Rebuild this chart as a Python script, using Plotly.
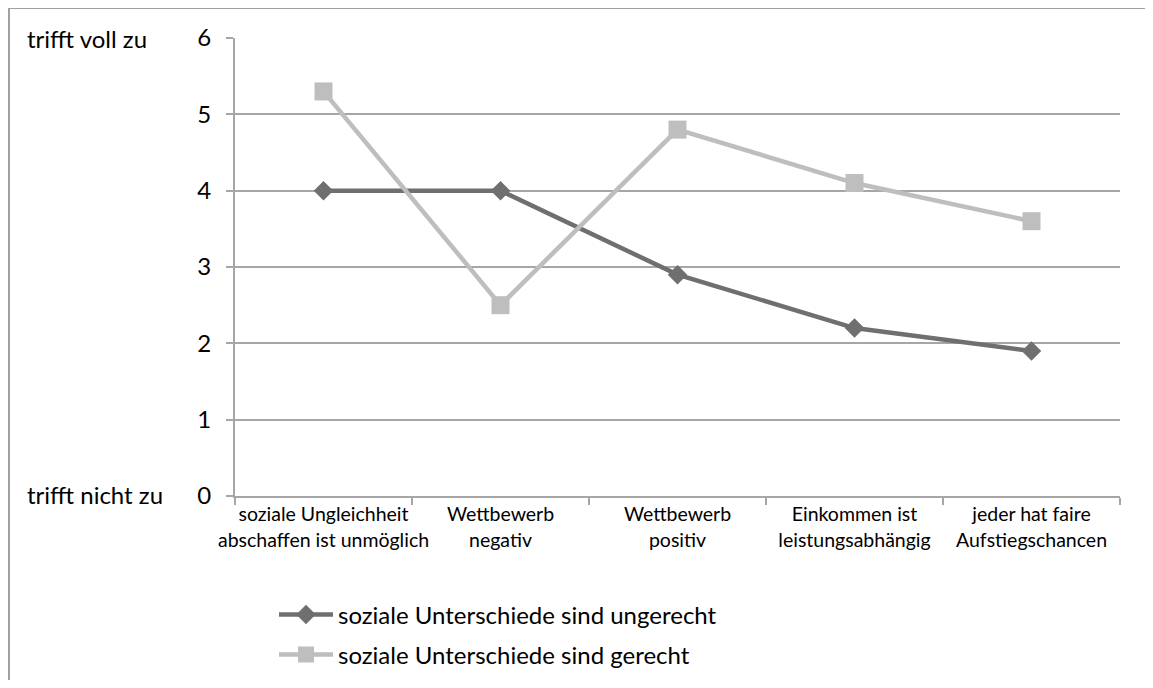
import plotly.graph_objects as go

categories = ["soziale Ungleichheit<br>abschaffen ist unmöglich", "Wettbewerb<br>negativ",
              "Wettbewerb<br>positiv", "Einkommen ist<br>leistungsabhängig",
              "jeder hat faire<br>Aufstiegschancen"]
ungerecht = [4.0, 4.0, 2.9, 2.2, 1.9]
gerecht = [5.3, 2.5, 4.8, 4.1, 3.6]
yticks = [0, 1, 2, 3, 4, 5, 6]

OFF = 8  # page body margin
W, H = 1153 - 2 * OFF, 688 - 2 * OFF
L, T = 235 - OFF, 38 - OFF
R = W - (1120 - OFF)
B = H - (496 - OFF)
pw, ph = W - L - R, H - T - B

FONT = "Lato, Open Sans, sans-serif"
DARK = "#6f6f6f"
LIGHT = "#bebebe"
GRID = "#a6a6a6"

def px_x(p):
    return (p - OFF - L) / pw

def px_y(p):
    return 1 - (p - OFF - T) / ph

fig = go.Figure()
fig.add_trace(go.Scatter(
    x=categories, y=ungerecht, mode="lines+markers",
    name="soziale Unterschiede sind ungerecht",
    line=dict(color=DARK, width=4.5),
    marker=dict(symbol="diamond", size=15, color=DARK),
    legend="legend", showlegend=True,
))
fig.add_trace(go.Scatter(
    x=categories, y=gerecht, mode="lines+markers",
    name="soziale Unterschiede sind gerecht",
    line=dict(color=LIGHT, width=4.5),
    marker=dict(symbol="square", size=18, color=LIGHT),
    legend="legend2", showlegend=True,
))

fig.update_layout(
    width=W, height=H,
    margin=dict(l=L, r=R, t=T, b=B, autoexpand=False),
    paper_bgcolor="white", plot_bgcolor="white",
    showlegend=True,
    font=dict(family=FONT, size=20, color="black"),
    xaxis=dict(type="category", tickson="boundaries", ticks="outside", ticklen=7,
               tickcolor=GRID, tickwidth=2, showline=True, linecolor=GRID,
               linewidth=2, showgrid=False, tickfont=dict(size=19.5), tickangle=0,
               automargin=False, range=[-0.5, 4.5]),
    yaxis=dict(range=[0, 6], tickvals=yticks, ticks="outside", ticklen=7,
               tickcolor=GRID, tickwidth=2, showline=True, linecolor=GRID,
               linewidth=2, showgrid=True, gridcolor=GRID, gridwidth=2,
               zeroline=False, tickfont=dict(size=24), ticklabelstandoff=10,
               automargin=False),
    legend=dict(x=px_x(274), y=px_y(615), xanchor="left", yanchor="middle",
                font=dict(size=24), itemwidth=54, bgcolor="rgba(0,0,0,0)"),
    legend2=dict(x=px_x(274), y=px_y(655), xanchor="left", yanchor="middle",
                 font=dict(size=24), itemwidth=54, bgcolor="rgba(0,0,0,0)"),
    shapes=[
        dict(type="line", xref="paper", yref="paper",
             x0=px_x(9), x1=px_x(1170), y0=px_y(8), y1=px_y(8),
             line=dict(color="#a0a0a0", width=2), layer="below"),
        dict(type="line", xref="paper", yref="paper",
             x0=px_x(9), x1=px_x(9), y0=px_y(8), y1=px_y(720),
             line=dict(color="#a0a0a0", width=2), layer="below"),
    ],
    annotations=[
        dict(text="trifft voll zu", xref="paper", yref="paper", x=px_x(25), y=px_y(38),
             xanchor="left", yanchor="middle", showarrow=False, font=dict(size=24)),
        dict(text="trifft nicht zu", xref="paper", yref="paper", x=px_x(25), y=px_y(494),
             xanchor="left", yanchor="middle", showarrow=False, font=dict(size=24)),
    ],
)

fig.write_html("out.html")
